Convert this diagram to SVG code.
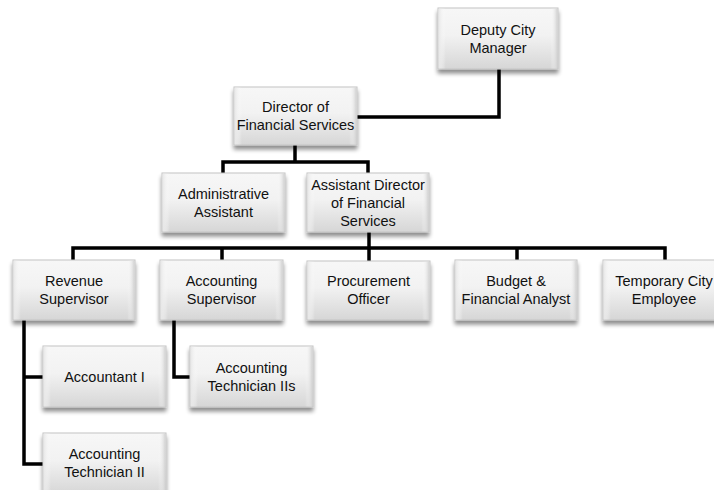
<svg xmlns="http://www.w3.org/2000/svg" width="714" height="490" viewBox="0 0 714 490">
  <defs>
    <linearGradient id="boxFill" x1="0" y1="0" x2="0" y2="1">
      <stop offset="0" stop-color="#f7f7f7"/>
      <stop offset="0.45" stop-color="#f2f2f2"/>
      <stop offset="1" stop-color="#d6d6d6"/>
    </linearGradient>
    <linearGradient id="bevelEdge" x1="0" y1="0" x2="1" y2="0">
      <stop offset="0" stop-color="#e6e6e6"/>
      <stop offset="0.06" stop-color="#ffffff" stop-opacity="0"/>
      <stop offset="0.94" stop-color="#ffffff" stop-opacity="0"/>
      <stop offset="1" stop-color="#cfcfcf"/>
    </linearGradient>
    <filter id="shadow" x="-10%" y="-10%" width="120%" height="135%">
      <feGaussianBlur in="SourceAlpha" stdDeviation="2"/>
      <feOffset dx="0" dy="4" result="blur"/>
      <feComponentTransfer><feFuncA type="linear" slope="0.45"/></feComponentTransfer>
      <feMerge><feMergeNode/><feMergeNode in="SourceGraphic"/></feMerge>
    </filter>
  </defs>
  <style>
    .box { fill: url(#boxFill); stroke: #c4c4c4; stroke-width: 1; filter: url(#shadow); }
    .edge { fill: url(#bevelEdge); stroke: none; }
    .label { font-family: "Liberation Sans", Arial, sans-serif; font-size: 14.5px; fill: #111; text-anchor: middle; }
    .link { fill: none; stroke: #000; stroke-width: 3.5; stroke-linejoin: miter; stroke-linecap: square; }
  </style>

  <!-- reporting lines -->
  <g id="connectors">
    <path class="link" d="M499,70 V117 H358"/>
    <path class="link" d="M295,146 V162 M223,172 V162 H368 V172"/>
    <path class="link" d="M369,233 V260 M73,259 V248 H665 V259 M222,248 V259 M517,248 V259"/>
    <path class="link" d="M24,321 V464 H42 M24,377 H42"/>
    <path class="link" d="M174,321 V377 H189"/>
  </g>

  <g id="deputy-city-manager">
    <rect class="box" x="438" y="8" width="120" height="61"/>
    <rect class="edge" x="438.5" y="8.5" width="119" height="60"/>
    <text class="label" x="498" y="34.5">Deputy City</text>
    <text class="label" x="498" y="52.5">Manager</text>
  </g>

  <g id="director-financial-services">
    <rect class="box" x="234" y="87" width="123" height="58"/>
    <rect class="edge" x="234.5" y="87.5" width="122" height="57"/>
    <text class="label" x="295.5" y="112">Director of</text>
    <text class="label" x="295.5" y="130">Financial Services</text>
  </g>

  <g id="administrative-assistant">
    <rect class="box" x="162" y="173" width="123" height="59"/>
    <rect class="edge" x="162.5" y="173.5" width="122" height="58"/>
    <text class="label" x="223.5" y="198.5">Administrative</text>
    <text class="label" x="223.5" y="216.5">Assistant</text>
  </g>

  <g id="assistant-director">
    <rect class="box" x="307" y="173" width="122" height="59"/>
    <rect class="edge" x="307.5" y="173.5" width="121" height="58"/>
    <text class="label" x="368" y="189.5">Assistant Director</text>
    <text class="label" x="368" y="207.5">of Financial</text>
    <text class="label" x="368" y="225.5">Services</text>
  </g>

  <g id="revenue-supervisor">
    <rect class="box" x="13" y="260" width="122" height="60"/>
    <rect class="edge" x="13.5" y="260.5" width="121" height="59"/>
    <text class="label" x="74" y="286">Revenue</text>
    <text class="label" x="74" y="304">Supervisor</text>
  </g>

  <g id="accounting-supervisor">
    <rect class="box" x="160" y="260" width="123" height="60"/>
    <rect class="edge" x="160.5" y="260.5" width="122" height="59"/>
    <text class="label" x="221.5" y="286">Accounting</text>
    <text class="label" x="221.5" y="304">Supervisor</text>
  </g>

  <g id="procurement-officer">
    <rect class="box" x="307" y="261" width="123" height="59"/>
    <rect class="edge" x="307.5" y="261.5" width="122" height="58"/>
    <text class="label" x="368.5" y="286">Procurement</text>
    <text class="label" x="368.5" y="304">Officer</text>
  </g>

  <g id="budget-financial-analyst">
    <rect class="box" x="455" y="260" width="122" height="60"/>
    <rect class="edge" x="455.5" y="260.5" width="121" height="59"/>
    <text class="label" x="516" y="286">Budget &amp;</text>
    <text class="label" x="516" y="304">Financial Analyst</text>
  </g>

  <g id="temporary-city-employee">
    <rect class="box" x="603" y="260" width="122" height="60"/>
    <rect class="edge" x="603.5" y="260.5" width="121" height="59"/>
    <text class="label" x="664" y="286">Temporary City</text>
    <text class="label" x="664" y="304">Employee</text>
  </g>

  <g id="accountant-i">
    <rect class="box" x="43" y="346" width="123" height="61"/>
    <rect class="edge" x="43.5" y="346.5" width="122" height="60"/>
    <text class="label" x="104.5" y="382">Accountant I</text>
  </g>

  <g id="accounting-technician-iis">
    <rect class="box" x="190" y="346" width="123" height="61"/>
    <rect class="edge" x="190.5" y="346.5" width="122" height="60"/>
    <text class="label" x="251.5" y="372.5">Accounting</text>
    <text class="label" x="251.5" y="390.5">Technician IIs</text>
  </g>

  <g id="accounting-technician-ii">
    <rect class="box" x="43" y="433" width="123" height="61"/>
    <rect class="edge" x="43.5" y="433.5" width="122" height="60"/>
    <text class="label" x="104.5" y="459">Accounting</text>
    <text class="label" x="104.5" y="477">Technician II</text>
  </g>
</svg>
